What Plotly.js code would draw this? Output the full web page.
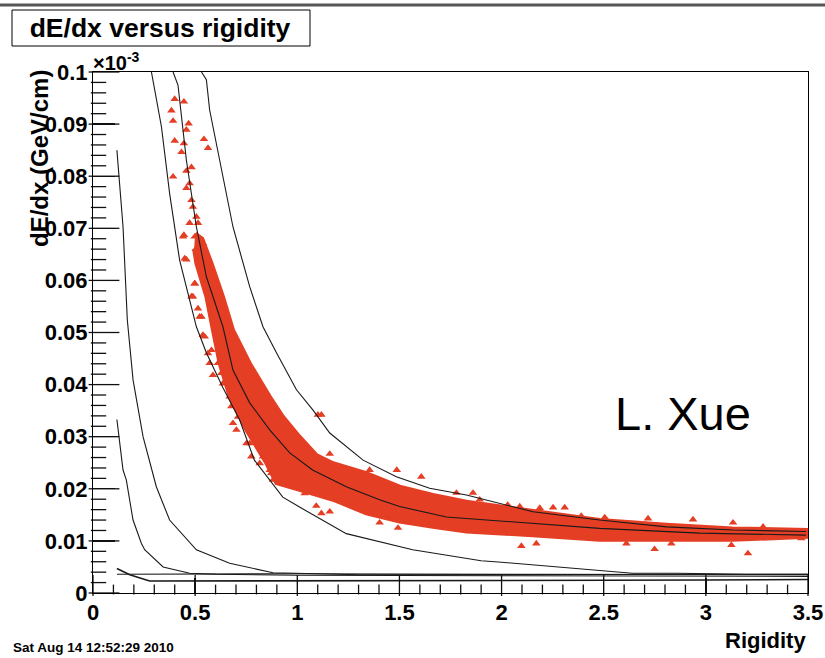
<!DOCTYPE html>
<html>
<head>
<meta charset="utf-8">
<script src="https://cdn.plot.ly/plotly-3.0.1.min.js"></script>
<style>html,body{margin:0;padding:0;background:#fff;}#plot{width:825px;height:658px;}</style>
</head>
<body>
<div id="plot"></div>
<script>
// ---- data ----
const xTickVals = [0, 0.5, 1, 1.5, 2, 2.5, 3, 3.5];
const xTickText = ['0', '0.5', '1', '1.5', '2', '2.5', '3', '3.5'];
const yTickVals = [0, 0.01, 0.02, 0.03, 0.04, 0.05, 0.06, 0.07, 0.08, 0.09, 0.1];
const yTickText = ['0', '0.01', '0.02', '0.03', '0.04', '0.05', '0.06', '0.07', '0.08', '0.09', '0.1'];

// curves
const centerX = [0.392, 0.416, 0.457, 0.506, 0.555, 0.636, 0.685, 0.767, 0.865, 0.963, 1.075, 1.24, 1.403, 1.501, 1.73, 1.99, 2.48, 2.97, 3.49];
const centerY = [0.1, 0.0975, 0.0831, 0.0703, 0.0607, 0.0511, 0.0428, 0.0365, 0.0313, 0.0269, 0.0236, 0.0204, 0.0179, 0.0166, 0.0146, 0.0138, 0.0124, 0.0115, 0.0111];
const upperX = [0.531, 0.555, 0.571, 0.636, 0.685, 0.767, 0.832, 0.898, 0.996, 1.077, 1.159, 1.322, 1.485, 1.648, 1.828, 2.154, 2.48, 2.807, 3.133, 3.49];
const upperY = [0.1, 0.0985, 0.0927, 0.0799, 0.0703, 0.0588, 0.0511, 0.0461, 0.039, 0.0351, 0.0307, 0.0255, 0.0223, 0.0201, 0.0188, 0.0156, 0.014, 0.0127, 0.0121, 0.0118];
const lowerX = [0.286, 0.335, 0.375, 0.424, 0.506, 0.555, 0.635, 0.718, 0.79, 0.929, 1.011, 1.24, 1.565, 1.9, 2.0, 2.48, 2.64, 2.86, 3.2, 3.5];
const lowerY = [0.1, 0.0895, 0.0767, 0.0639, 0.0511, 0.0461, 0.0395, 0.0332, 0.0255, 0.0184, 0.0165, 0.0114, 0.0083, 0.0062, 0.0059, 0.0044, 0.0038, 0.0038, 0.0036, 0.0036];
const kaonX = [0.117, 0.147, 0.168, 0.196, 0.245, 0.31, 0.375, 0.506, 0.669, 0.832, 0.881, 1.305, 2.0, 2.7, 3.5];
const kaonY = [0.085, 0.0703, 0.0524, 0.0409, 0.03, 0.0204, 0.014, 0.0083, 0.0057, 0.0044, 0.0039, 0.0035, 0.0035, 0.0036, 0.0036];
const pionX = [0.117, 0.147, 0.163, 0.196, 0.237, 0.253, 0.343, 0.473, 0.6, 1.0, 2.0, 3.0, 3.5];
const pionY = [0.0333, 0.0236, 0.0217, 0.014, 0.0095, 0.0083, 0.005, 0.0038, 0.0036, 0.0034, 0.0033, 0.0032, 0.0032];
const flatX = [0.117, 0.5, 1.0, 2.0, 3.0, 3.5];
const flatY = [0.0036, 0.0037, 0.0037, 0.0036, 0.0035, 0.0035];
const electronX = [0.117, 0.18, 0.277, 0.5, 1.0, 2.0, 3.0, 3.5];
const electronY = [0.0047, 0.0035, 0.0023, 0.0023, 0.0023, 0.0024, 0.0025, 0.0026];

// dense data cloud edges
const cloudTopX = [0.50, 0.535, 0.58, 0.636, 0.685, 0.767, 0.865, 0.93, 1.011, 1.093, 1.175, 1.338, 1.501, 1.664, 1.828, 1.99, 2.15, 2.48, 2.807, 3.13, 3.5];
const cloudTopY = [0.069, 0.068, 0.0633, 0.0569, 0.0505, 0.0441, 0.0377, 0.0338, 0.030, 0.0265, 0.0249, 0.023, 0.0204, 0.0188, 0.0175, 0.0166, 0.0157, 0.014, 0.0131, 0.0124, 0.0121];
const cloudBotX = [0.495, 0.506, 0.555, 0.587, 0.62, 0.669, 0.751, 0.849, 0.898, 1.011, 1.175, 1.338, 1.501, 1.664, 1.828, 1.99, 2.15, 2.48, 2.807, 3.13, 3.5];
const cloudBotY = [0.066, 0.0633, 0.0569, 0.0505, 0.0441, 0.0377, 0.0313, 0.0249, 0.0211, 0.0198, 0.0179, 0.0153, 0.0137, 0.0127, 0.0118, 0.0115, 0.0111, 0.0102, 0.0102, 0.0102, 0.0108];

// individual scattered points
const ptsX = [0.400, 0.445, 0.384, 0.392, 0.468, 0.457, 0.400, 0.543, 0.445, 0.563, 0.433, 0.482, 0.457, 0.392, 0.473, 0.457, 0.482, 0.489, 0.506, 0.473, 0.514, 0.445, 0.498, 0.538, 0.503, 0.457, 0.568, 0.498, 0.482, 0.514, 0.636, 0.522,
  0.449, 0.441, 0.498, 0.489, 0.531, 0.547, 0.58, 0.571, 0.612, 0.628, 0.636, 0.677, 0.685, 0.702, 0.751, 0.775, 0.816, 0.865, 0.881,
  0.538, 0.563, 0.587, 0.669, 0.710, 0.767, 0.832, 0.873, 0.93, 1.003, 1.036, 1.093, 1.118, 1.159, 1.403, 1.493, 1.101, 1.118, 1.159, 1.354, 1.487, 1.607, 1.779, 1.86,
  1.893, 2.03, 2.089, 2.187, 2.252, 2.309, 2.39, 2.505, 2.717, 2.937, 3.133, 3.28, 2.097, 2.17, 2.611, 2.749, 2.831, 3.125, 3.206, 3.467];
const ptsY = [0.0948, 0.0943, 0.0926, 0.0906, 0.0901, 0.0889, 0.0868, 0.0871, 0.0863, 0.0854, 0.0846, 0.0817, 0.0810, 0.0799, 0.0786, 0.0777, 0.0754, 0.0741, 0.0722, 0.0710, 0.0710, 0.0687, 0.0684, 0.0671, 0.0660, 0.0640, 0.0636, 0.0594, 0.0569, 0.0546, 0.0550, 0.0530,
  0.0642, 0.0684, 0.0594, 0.0569, 0.0530, 0.0492, 0.0466, 0.0441, 0.0441, 0.0422, 0.0402, 0.0358, 0.0326, 0.0313, 0.0287, 0.0262, 0.0249, 0.0236, 0.0217,
  0.0495, 0.046, 0.0418, 0.0377, 0.0338, 0.0287, 0.0262, 0.0230, 0.0236, 0.0207, 0.0191, 0.0167, 0.0153, 0.0156, 0.0135, 0.0125, 0.0342, 0.0342, 0.0267, 0.0236, 0.0236, 0.0223, 0.0192, 0.0192,
  0.0179, 0.0169, 0.0166, 0.0163, 0.0164, 0.0164, 0.0148, 0.0145, 0.0143, 0.0141, 0.0135, 0.0127, 0.0090, 0.0095, 0.0095, 0.0084, 0.0095, 0.0092, 0.0076, 0.0105];

// ---- drawing ----
const RED = 'rgb(228,62,36)';
const FONT = 'Liberation Sans, Arial, Helvetica, sans-serif';
const lineStyle = {color: '#1a1a1a', width: 1.1};

const L = 93, R = 808, T = 72, B = 593, W = 825, H = 658;
const PW = R - L, PH = B - T;
const X_MAX = 3.5, Y_MAX = 0.1;
const px = v => (v - L) / PW;
const py = v => (B - v) / PH;
const bold = t => '<b>' + t + '</b>';

// ROOT-style tick marks inside the frame, drawn as line-shaped markers:
// major ticks at the tick arrays, minor ticks at regular subdivisions.
const xMinor = [], yMinor = [];
for (let k = 0; k <= 35; k++) { if (k % 5) xMinor.push(k * 0.1); }
for (let k = 0; k <= 50; k++) { if (k % 5) yMinor.push(k * 0.002); }
function tickTrace(xs, ys, symbol, size) {
  return {x: xs, y: ys, type: 'scatter', mode: 'markers', cliponaxis: false,
          marker: {symbol: symbol, size: size, color: '#111', line: {color: '#111', width: 1.3}}};
}
const tickTraces = [
  tickTrace(xTickVals, xTickVals.map(() => Y_MAX * 7.5 / PH), 'line-ns', 15),
  tickTrace(xMinor, xMinor.map(() => Y_MAX * 3.5 / PH), 'line-ns', 7),
  tickTrace(yTickVals.map(() => X_MAX * 11 / PW), yTickVals, 'line-ew', 22),
  tickTrace(yMinor.map(() => X_MAX * 5.5 / PW), yMinor, 'line-ew', 11)
];

const traces = [
  {x: cloudTopX.concat(cloudBotX.slice().reverse()), y: cloudTopY.concat(cloudBotY.slice().reverse()),
   type: 'scatter', mode: 'lines', fill: 'toself', fillcolor: RED, line: {color: RED, width: 4}},
  {x: ptsX, y: ptsY, type: 'scatter', mode: 'markers', marker: {symbol: 'triangle-up', size: 7.5, color: RED}},
  {x: upperX, y: upperY, type: 'scatter', mode: 'lines', line: lineStyle},
  {x: centerX, y: centerY, type: 'scatter', mode: 'lines', line: lineStyle},
  {x: lowerX, y: lowerY, type: 'scatter', mode: 'lines', line: lineStyle},
  {x: kaonX, y: kaonY, type: 'scatter', mode: 'lines', line: lineStyle},
  {x: pionX, y: pionY, type: 'scatter', mode: 'lines', line: lineStyle},
  {x: flatX, y: flatY, type: 'scatter', mode: 'lines', line: lineStyle},
  {x: electronX, y: electronY, type: 'scatter', mode: 'lines', line: {color: '#1a1a1a', width: 1.6}}
].concat(tickTraces);

const tickFont = {family: FONT, size: 22, color: '#000'};

const layout = {
  width: W, height: H,
  margin: {l: L, r: W - R, t: T, b: H - B, pad: 0},
  paper_bgcolor: '#fff', plot_bgcolor: '#fff',
  showlegend: false,
  title: {text: bold('dE/dx versus rigidity'), font: {family: FONT, size: 26.5, color: '#000'},
          xref: 'container', yref: 'container', x: 160 / W, y: 1 - 28 / H, xanchor: 'center', yanchor: 'middle'},
  xaxis: {range: [0, X_MAX], tickmode: 'array', tickvals: xTickVals, ticktext: xTickText.map(bold),
          ticks: 'inside', ticklen: 15, tickwidth: 1.3, tickcolor: '#111',
          showline: true, linecolor: '#000', linewidth: 1, mirror: true, showgrid: false, zeroline: false,
          tickfont: tickFont},
  yaxis: {range: [0, Y_MAX], tickmode: 'array', tickvals: yTickVals, ticktext: yTickText.map(bold),
          ticks: 'inside', ticklen: 22, tickwidth: 1.3, tickcolor: '#111',
          showline: true, linecolor: '#000', linewidth: 1, mirror: true, showgrid: false, zeroline: false,
          tickfont: tickFont},
  shapes: [
    {type: 'rect', xref: 'paper', yref: 'paper', x0: px(12), x1: px(310), y0: py(46), y1: py(10), line: {color: '#000', width: 1}},
    {type: 'line', xref: 'paper', yref: 'paper', x0: px(0), x1: px(825), y0: py(5), y1: py(5), line: {color: '#555', width: 3}}
  ],
  annotations: [
    {text: bold('×10<sup>-3</sup>'), xref: 'paper', yref: 'paper', x: px(91), y: py(61), xanchor: 'left', yanchor: 'middle', showarrow: false,
     font: {family: FONT, size: 20, color: '#000'}},
    {text: bold('dE/dx (GeV/cm)'), xref: 'paper', yref: 'paper', x: px(39), y: py(159), xanchor: 'center', yanchor: 'middle', textangle: -90, showarrow: false,
     font: {family: FONT, size: 24, color: '#000'}},
    {text: bold('Rigidity'), xref: 'paper', yref: 'paper', x: px(808), y: py(640), xanchor: 'right', yanchor: 'middle', showarrow: false,
     font: {family: FONT, size: 22, color: '#000'}},
    {text: bold('Sat Aug 14 12:52:29 2010'), xref: 'paper', yref: 'paper', x: px(11), y: py(647), xanchor: 'left', yanchor: 'middle', showarrow: false,
     font: {family: FONT, size: 13.5, color: '#000'}},
    {text: 'L. Xue', xref: 'paper', yref: 'paper', x: px(683), y: py(413), xanchor: 'center', yanchor: 'middle', showarrow: false,
     font: {family: FONT, size: 47, color: '#000'}}
  ]
};

Plotly.newPlot('plot', traces, layout, {displayModeBar: false, staticPlot: true});
</script>
</body>
</html>
